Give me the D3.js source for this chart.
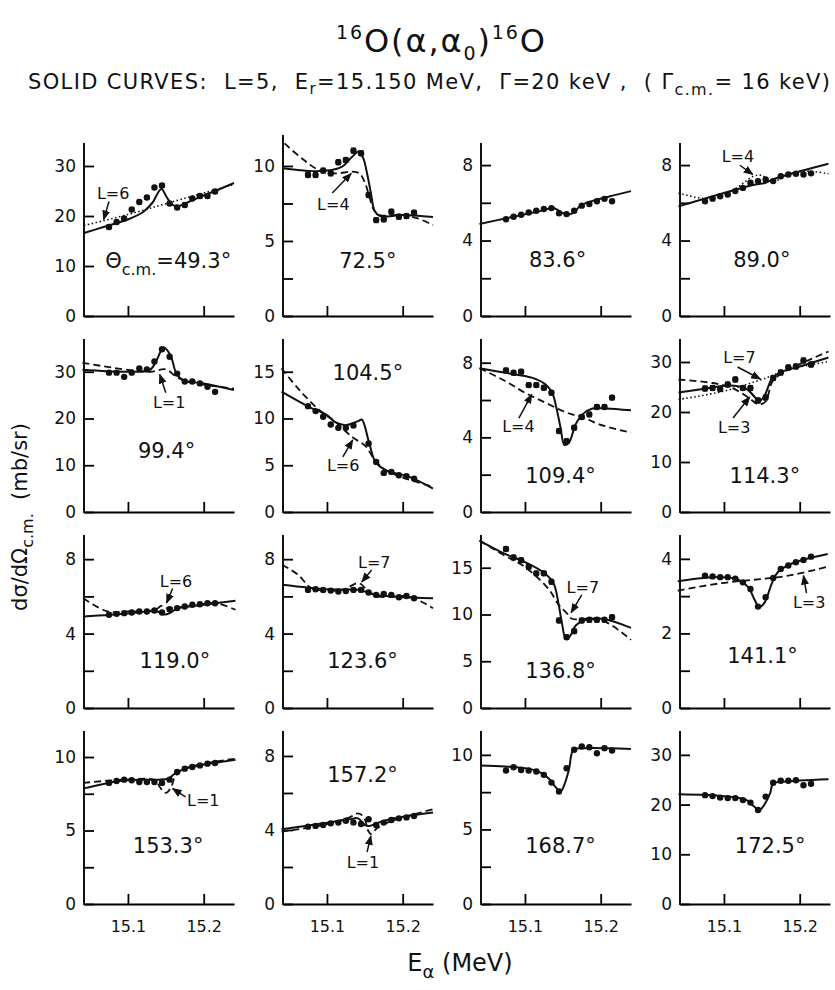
<!DOCTYPE html>
<html>
<head>
<meta charset="utf-8">
<script src="https://cdn.jsdelivr.net/npm/d3@7"></script>
<style>
  body { margin: 0; background: #fff; }
  text { font-family: "DejaVu Sans", sans-serif; fill: #111; }
</style>
</head>
<body>
<div id="chart"></div>
<script>
// Beam energies of the measured points (MeV), shared by all angles
const energies = [15.075, 15.085, 15.095, 15.105, 15.115, 15.125, 15.135, 15.145,
                  15.155, 15.165, 15.175, 15.185, 15.195, 15.205, 15.215];
const angles = ["49.3", "72.5", "83.6", "89.0", "99.4", "104.5", "109.4", "114.3",
                "119.0", "123.6", "136.8", "141.1", "153.3", "157.2", "168.7", "172.5"];
const xDomain = [15.042, 15.24];
const xTicks = [15.1, 15.2];
const yMax = [34.6, 11.53, 9.17, 9.17, 37.0, 18.5, 9.27, 34.6, 9.3, 9.3, 18.5, 4.64, 11.77, 9.35, 11.6, 34.8];
const yAxisEnd = [34.6, 12.07, 9.17, 9.17, 37.0, 18.5, 9.27, 34.6, 9.3, 9.3, 18.5, 4.64, 11.77, 9.35, 11.6, 34.8];
const yMajor = [[0, 10, 20, 30], [0, 5, 10], [0, 4, 8], [0, 4, 8], [0, 10, 20, 30], [0, 5, 10, 15],
                [0, 4, 8], [0, 10, 20, 30], [0, 4, 8], [0, 4, 8], [0, 5, 10, 15], [0, 2, 4],
                [0, 5, 10], [0, 4, 8], [0, 5, 10], [0, 10, 20, 30]];
const yMinor = [[], [2.5, 7.5], [2, 6], [2, 6], [], [], [2, 6], [], [2, 6], [2, 6], [], [1, 3],
                [2.5, 7.5], [2, 6], [2.5, 7.5], []];
// half height of the error bars (same units as the panel)
const errHalf = [0.5, 0.2, 0, 0.05, 0, 0, 0.15, 0.6, 0.06, 0, 0.3, 0, 0.1, 0, 0, 0];

// Measured cross sections (mb/sr), one value per energy
const sig493 = [17.8, 18.8, 19.5, 21.3, 22.8, 23.7, 25.7, 26.1, 22.5, 21.7, 22.2, 23.5, 24.0, 24.0, 24.9];
const sig725 = [9.40, 9.40, 9.69, 9.51, 10.25, 10.40, 11.02, 10.85, 8.06, 6.39, 6.44, 6.95, 6.62, 6.66, 6.88];
const sig836 = [5.13, 5.26, 5.37, 5.49, 5.58, 5.67, 5.72, 5.44, 5.40, 5.58, 5.85, 5.94, 6.08, 6.21, 6.08];
const sig890 = [6.08, 6.22, 6.35, 6.44, 6.62, 6.79, 7.06, 7.15, 7.24, 7.15, 7.41, 7.50, 7.54, 7.50, 7.56];
const sig994 = [29.8, 29.8, 28.9, 29.8, 30.7, 30.5, 32.2, 34.8, 33.2, 29.6, 27.9, 27.9, 27.5, 26.8, 25.7];
const sig1045 = [11.32, 10.79, 10.18, 9.36, 9.0, 9.0, 9.25, null, 7.32, 5.36, 4.18, 4.29, 3.93, 3.82, 3.57];
const sig1094 = [7.59, 7.46, 7.52, 6.80, 6.80, 6.66, 6.39, 4.34, 3.80, 4.52, 5.09, 5.23, 5.63, 5.63, 6.13];
const sig1143 = [24.7, 24.8, 24.6, 25.5, 26.5, 24.8, 24.8, 22.3, 22.9, 26.8, 27.9, 28.9, 29.1, 30.3, 29.5];
const sig1190 = [5.01, 5.06, 5.10, 5.13, 5.19, 5.19, 5.24, 5.13, 5.31, 5.37, 5.46, 5.55, 5.58, 5.63, 5.63];
const sig1236 = [6.35, 6.38, 6.35, 6.31, 6.26, 6.29, 6.35, 6.35, 6.21, 6.08, 6.13, 6.08, 5.95, 6.02, 5.90];
const sig1368 = [17.0, 16.1, 15.8, 15.1, 14.4, 14.4, 13.5, 9.36, 7.57, 8.21, 9.36, 9.43, 9.43, 9.43, 9.71];
const sig1411 = [3.55, 3.53, 3.51, 3.51, 3.47, 3.37, 3.19, 2.72, 2.97, 3.49, 3.73, 3.82, 3.91, 3.97, 4.06];
const sig1533 = [8.24, 8.37, 8.46, 8.42, 8.30, 8.30, 8.30, 8.24, 8.46, 8.98, 9.21, 9.32, 9.43, 9.55, 9.59];
const sig1572 = [4.18, 4.22, 4.27, 4.36, 4.40, 4.50, 4.41, 4.32, 4.58, 4.27, 4.40, 4.54, 4.63, 4.68, 4.76];
const sig1687 = [8.95, 9.17, 8.99, 8.95, 8.88, 8.66, 8.14, 7.54, 9.10, 10.34, 10.56, 10.51, 10.11, 10.45, 10.29];
const sig1725 = [21.9, 21.7, 21.4, 21.3, 21.3, 20.9, 20.4, 18.9, 21.6, 24.4, 24.8, 24.8, 24.9, 23.9, 24.2];

// Solid curves: L=5 resonance fits, [E, value]
const fit493 = [[15.042, 16.6], [15.07, 17.9], [15.1, 19.3], [15.12, 20.8], [15.132, 22.6], [15.144, 25.4], [15.151, 23.8], [15.158, 22.3], [15.166, 22.0], [15.18, 22.8], [15.2, 24.1], [15.22, 25.3], [15.24, 26.6]];
const fit725 = [[15.042, 9.84], [15.075, 9.67], [15.1, 9.69], [15.12, 9.96], [15.133, 10.6], [15.142, 10.96], [15.148, 10.5], [15.153, 9.5], [15.158, 8.2], [15.163, 7.0], [15.17, 6.66], [15.2, 6.73], [15.24, 6.6]];
const fit836 = [[15.04, 4.88], [15.08, 5.22], [15.12, 5.56], [15.137, 5.72], [15.145, 5.58], [15.152, 5.42], [15.158, 5.38], [15.165, 5.5], [15.172, 5.8], [15.18, 5.98], [15.21, 6.32], [15.24, 6.62]];
const fit890 = [[15.04, 5.81], [15.14, 6.96], [15.155, 7.06], [15.165, 7.25], [15.238, 8.07]];
const fit994 = [[15.04, 30.4], [15.1, 30.0], [15.129, 30.4], [15.138, 32.5], [15.147, 35.2], [15.156, 33.6], [15.164, 29.6], [15.173, 28.2], [15.2, 27.5], [15.24, 26.1]];
const fit1045 = [[15.04, 12.86], [15.076, 11.25], [15.1, 10.36], [15.111, 9.6], [15.124, 9.29], [15.133, 9.46], [15.142, 9.75], [15.146, 9.89], [15.156, 7.32], [15.164, 5.36], [15.178, 4.46], [15.209, 3.75], [15.24, 2.5]];
const fit1094 = [[15.04, 7.70], [15.074, 7.46], [15.109, 7.20], [15.127, 6.84], [15.136, 6.39], [15.14, 5.86], [15.147, 4.52], [15.152, 3.6], [15.158, 3.71], [15.167, 4.70], [15.176, 5.23], [15.189, 5.55], [15.207, 5.55], [15.24, 5.45]];
const fit1143 = [[15.04, 23.9], [15.076, 24.7], [15.107, 25.3], [15.129, 24.7], [15.14, 23.1], [15.146, 22.1], [15.153, 23.1], [15.164, 26.8], [15.177, 28.1], [15.2, 29.1], [15.238, 30.9]];
const fit1190 = [[15.041, 4.92], [15.1, 5.08], [15.13, 5.2], [15.14, 5.17], [15.148, 5.02], [15.156, 5.12], [15.165, 5.35], [15.2, 5.55], [15.242, 5.76]];
const fit1236 = [[15.041, 6.62], [15.1, 6.38], [15.142, 6.35], [15.155, 6.2], [15.165, 6.08], [15.24, 5.9]];
const fit1368 = [[15.04, 17.9], [15.073, 16.5], [15.1, 15.6], [15.127, 14.36], [15.138, 13.3], [15.144, 11.3], [15.149, 9.0], [15.154, 7.39], [15.16, 7.75], [15.167, 8.82], [15.18, 9.43], [15.202, 9.54], [15.24, 8.57]];
const fit1411 = [[15.039, 3.40], [15.097, 3.51], [15.119, 3.44], [15.132, 3.24], [15.141, 2.88], [15.147, 2.70], [15.154, 2.84], [15.163, 3.33], [15.171, 3.64], [15.189, 3.87], [15.237, 4.13]];
const fit1533 = [[15.041, 7.85], [15.096, 8.42], [15.14, 8.46], [15.153, 8.53], [15.162, 8.87], [15.176, 9.21], [15.242, 9.82]];
const fit1572 = [[15.04, 4.04], [15.095, 4.36], [15.13, 4.58], [15.141, 4.63], [15.15, 4.27], [15.156, 4.22], [15.165, 4.36], [15.183, 4.58], [15.24, 4.94]];
const fit1687 = [[15.041, 9.28], [15.073, 9.22], [15.1, 9.11], [15.118, 8.88], [15.131, 8.43], [15.14, 7.87], [15.147, 7.54], [15.151, 7.87], [15.158, 8.99], [15.164, 10.34], [15.176, 10.45], [15.24, 10.40]];
const fit1725 = [[15.04, 22.1], [15.1, 21.7], [15.13, 20.9], [15.139, 19.7], [15.147, 18.9], [15.153, 19.9], [15.161, 22.3], [15.165, 24.3], [15.178, 24.6], [15.238, 25.1]];

// Other-L curves (dashed or dotted)
const alt493L6 = [[15.042, 18.1], [15.1, 20.3], [15.16, 22.9], [15.24, 26.3]];
const alt725L4 = [[15.044, 11.5], [15.067, 10.5], [15.089, 9.73], [15.111, 9.5], [15.133, 9.62], [15.143, 9.5], [15.15, 8.9], [15.156, 7.95], [15.162, 7.06], [15.17, 6.73], [15.2, 6.73], [15.22, 6.5], [15.24, 6.06]];
const alt890L4 = [[15.04, 6.52], [15.076, 6.22], [15.1, 6.4], [15.12, 6.88], [15.139, 7.41], [15.15, 7.45], [15.164, 7.11], [15.185, 7.5], [15.207, 7.68], [15.238, 7.54]];
const alt994L1 = [[15.04, 31.9], [15.1, 30.4], [15.13, 30.0], [15.15, 30.5], [15.164, 28.9], [15.178, 27.9], [15.24, 26.4]];
const alt1045L6 = [[15.04, 15.36], [15.062, 13.2], [15.089, 10.96], [15.111, 9.64], [15.133, 8.04], [15.151, 7.04], [15.162, 5.71], [15.178, 4.46], [15.24, 2.68]];
const alt1094L4 = [[15.04, 7.70], [15.074, 7.02], [15.1, 6.39], [15.127, 5.86], [15.145, 5.50], [15.162, 5.23], [15.176, 5.09], [15.198, 4.70], [15.24, 4.25]];
const alt1143L3 = [[15.04, 26.5], [15.085, 25.8], [15.111, 24.8], [15.133, 22.8], [15.146, 21.5], [15.155, 22.1], [15.164, 26.1], [15.177, 27.8], [15.238, 32.1]];
const alt1143L7 = [[15.04, 22.5], [15.098, 24.1], [15.146, 26.3], [15.186, 28.5], [15.238, 30.1]];
const alt1190L6 = [[15.041, 5.90], [15.073, 5.19], [15.1, 5.19], [15.136, 5.28], [15.144, 5.49], [15.152, 5.37], [15.184, 5.49], [15.216, 5.63], [15.242, 5.28]];
const alt1236L7 = [[15.041, 7.70], [15.062, 7.16], [15.08, 6.44], [15.12, 6.35], [15.142, 6.71], [15.155, 6.26], [15.168, 5.99], [15.208, 5.99], [15.24, 5.36]];
const alt1368L7 = [[15.04, 17.9], [15.073, 16.3], [15.1, 15.07], [15.131, 12.75], [15.144, 11.1], [15.156, 10.07], [15.162, 9.54], [15.184, 9.54], [15.207, 9.18], [15.24, 7.29]];
const alt1411L3 = [[15.039, 3.15], [15.097, 3.35], [15.14, 3.44], [15.185, 3.55], [15.237, 3.79]];
const alt1533L1 = [[15.041, 8.24], [15.096, 8.46], [15.136, 8.42], [15.142, 7.96], [15.15, 7.56], [15.157, 7.96], [15.162, 8.64], [15.171, 9.14], [15.242, 9.89]];
const alt1572L1 = [[15.04, 3.91], [15.095, 4.27], [15.13, 4.68], [15.141, 4.90], [15.149, 4.68], [15.154, 4.0], [15.158, 3.78], [15.166, 4.09], [15.183, 4.45], [15.24, 5.12]];

const sigmas = [sig493, sig725, sig836, sig890, sig994, sig1045, sig1094, sig1143,
                sig1190, sig1236, sig1368, sig1411, sig1533, sig1572, sig1687, sig1725];
const fits = [fit493, fit725, fit836, fit890, fit994, fit1045, fit1094, fit1143,
              fit1190, fit1236, fit1368, fit1411, fit1533, fit1572, fit1687, fit1725];
// panel index, curve, dash style
const altCurves = [
    [0, alt493L6, "dot"], [1, alt725L4, "dash"], [3, alt890L4, "dot"], [4, alt994L1, "dash"],
    [5, alt1045L6, "dash"], [6, alt1094L4, "dash"], [7, alt1143L3, "dash"], [7, alt1143L7, "dot"],
    [8, alt1190L6, "dash"], [9, alt1236L7, "dash"], [10, alt1368L7, "dash"], [11, alt1411L3, "dash"],
    [12, alt1533L1, "dash"], [13, alt1572L1, "dash"]
];
// L labels: panel, text, text anchor [E, v], arrow from [E, v] to [E, v]
const lNotes = [
    [0, "L=6", [15.059, 23.4], [15.075, 22.9], [15.068, 19.3]],
    [1, "L=4", [15.087, 7.07], [15.107, 8.2], [15.132, 9.5]],
    [3, "L=4", [15.097, 8.15], [15.121, 7.99], [15.138, 7.5]],
    [4, "L=1", [15.133, 22.3], [15.150, 25.5], [15.142, 29.4]],
    [5, "L=6", [15.1, 4.4], [15.121, 5.9], [15.134, 7.7]],
    [6, "L=4", [15.070, 4.29], [15.092, 5.03], [15.109, 6.3]],
    [7, "L=7", [15.099, 29.8], [15.118, 29.0], [15.148, 26.6]],
    [7, "L=3", [15.092, 15.8], [15.112, 18.8], [15.134, 23.0]],
    [8, "L=6", [15.142, 6.52], [15.159, 6.42], [15.151, 5.65]],
    [9, "L=7", [15.141, 7.53], [15.159, 7.42], [15.146, 6.78]],
    [10, "L=7", [15.155, 12.3], [15.175, 12.1], [15.161, 10.2]],
    [11, "L=3", [15.191, 2.68], [15.209, 3.08], [15.205, 3.55]],
    [12, "L=1", [15.178, 6.67], [15.176, 7.28], [15.159, 7.85]],
    [13, "L=1", [15.126, 1.95], [15.153, 2.81], [15.158, 3.68]]
];
// angle label centre (E) and baseline (value) for each panel
const angleAt = [[15.070, 9.6], [15.154, 3.2], [15.143, 2.6], [15.150, 2.6], [15.151, 11.6], [15.154, 14.1],
                 [15.147, 1.55], [15.154, 5.8], [15.162, 2.14], [15.147, 2.15], [15.147, 3.2], [15.151, 1.2],
                 [15.153, 3.47], [15.147, 6.6], [15.147, 3.42], [15.161, 10.3]];

// Layout
const width = 835;
const height = 990;
const colLeft = [84, 283, 481, 680];
const rowZero = [316, 512, 708, 904];
const plotW = 150;
const axisH = 173;

const svg = d3.create("svg")
    .attr("width", width)
    .attr("height", height)
    .style("display", "block");
document.getElementById("chart").append(svg.node());

// Arrow head for the L labels
svg.append("defs").append("marker")
    .attr("id", "arrow")
    .attr("viewBox", "0 0 10 8")
    .attr("refX", 9).attr("refY", 4)
    .attr("markerWidth", 10).attr("markerHeight", 8)
    .attr("markerUnits", "userSpaceOnUse")
    .attr("orient", "auto")
    .append("path")
    .attr("d", "M0,0 L10,4 L0,8 Z")
    .attr("fill", "#111");

// Title
const title = svg.append("text")
    .attr("x", 336).attr("y", 52)
    .attr("font-size", 32)
    .attr("textLength", 209)
    .attr("lengthAdjust", "spacing");
title.append("tspan").attr("font-size", 19).attr("dy", -13).text("16");
title.append("tspan").attr("dy", 13).text("O(α,α");
title.append("tspan").attr("font-size", 19).attr("dy", 8).text("0");
title.append("tspan").attr("dy", -8).text(")");
title.append("tspan").attr("font-size", 19).attr("dy", -13).text("16");
title.append("tspan").attr("dy", 13).text("O");

// Subtitle
const sub = svg.append("text")
    .attr("x", 28).attr("y", 89)
    .attr("font-size", 21)
    .attr("textLength", 802)
    .attr("lengthAdjust", "spacing")
    .style("white-space", "pre");
sub.append("tspan").text("SOLID CURVES:  L=5,  E");
sub.append("tspan").attr("font-size", 15).attr("dy", 5).text("r");
sub.append("tspan").attr("dy", -5).text("=15.150 MeV,  Γ=20 keV ,  ( Γ");
sub.append("tspan").attr("font-size", 16).attr("dy", 6).text("c.m.");
sub.append("tspan").attr("dy", -6).text("= 16 keV)");

// Axis titles
const ylab = svg.append("text")
    .attr("transform", "translate(27,517) rotate(-90)")
    .attr("text-anchor", "middle")
    .attr("font-size", 21)
    .style("white-space", "pre");
ylab.append("tspan").text("dσ/dΩ");
ylab.append("tspan").attr("font-size", 16).attr("dy", 6).text("c.m.");
ylab.append("tspan").attr("dy", -6).text("  (mb/sr)");

const xlab = svg.append("text")
    .attr("x", 460).attr("y", 971)
    .attr("text-anchor", "middle")
    .attr("font-size", 24)
    .style("white-space", "pre");
xlab.append("tspan").text("E");
xlab.append("tspan").attr("font-size", 18).attr("dy", 7).text("α");
xlab.append("tspan").attr("dy", -7).text(" (MeV)");

const line = d3.line().curve(d3.curveCatmullRom.alpha(0.5));

angles.forEach(function (ang, i) {
    const row = Math.floor(i / 4);
    const col = i % 4;
    const x = d3.scaleLinear().domain(xDomain).range([colLeft[col], colLeft[col] + plotW]);
    const y = d3.scaleLinear().domain([0, yMax[i]]).range([rowZero[row], rowZero[row] - axisH]);
    const g = svg.append("g");

    // x axis (ticks point up, labels only on bottom row)
    const gx = g.append("g")
        .attr("transform", `translate(0,${rowZero[row]})`)
        .call(d3.axisBottom(x).tickValues(xTicks).tickSizeInner(-10).tickSizeOuter(0)
            .tickPadding(17).tickFormat(row === 3 ? d3.format(".1f") : () => ""));
    gx.select(".domain").attr("stroke-width", 2);
    gx.selectAll(".tick line").attr("stroke-width", 1.8);
    gx.selectAll(".tick text").attr("font-size", 16).attr("font-family", "DejaVu Sans").attr("fill", "#111");

    // y axis, major and minor ticks pointing inward
    const gy = g.append("g")
        .attr("transform", `translate(${colLeft[col]},0)`)
        .call(d3.axisLeft(y).tickValues(yMajor[i]).tickSizeInner(-10).tickSizeOuter(0)
            .tickPadding(8).tickFormat(d3.format("d")));
    gy.select(".domain").remove();
    gy.selectAll(".tick line").attr("stroke-width", 1.8);
    gy.selectAll(".tick text").attr("font-size", 17).attr("font-family", "DejaVu Sans").attr("fill", "#111");
    g.append("g")
        .attr("transform", `translate(${colLeft[col]},0)`)
        .call(d3.axisLeft(y).tickValues(yMinor[i]).tickSizeInner(-10).tickSizeOuter(0).tickFormat(() => ""))
        .call(a => a.select(".domain").remove())
        .selectAll(".tick line").attr("stroke-width", 1.8);
    g.append("line")
        .attr("x1", colLeft[col]).attr("x2", colLeft[col])
        .attr("y1", y(0) + 1).attr("y2", y(yAxisEnd[i]))
        .attr("stroke", "#111").attr("stroke-width", 2);

    // other-L curves
    altCurves.filter(c => c[0] === i).forEach(function (c) {
        g.append("path")
            .attr("d", line(c[1].map(p => [x(p[0]), y(p[1])])))
            .attr("fill", "none")
            .attr("stroke", "#111")
            .attr("stroke-width", c[2] === "dot" ? 1.6 : 1.8)
            .attr("stroke-dasharray", c[2] === "dot" ? "1.5,2.5" : "7,4");
    });

    // L=5 fit
    g.append("path")
        .attr("d", line(fits[i].map(p => [x(p[0]), y(p[1])])))
        .attr("fill", "none")
        .attr("stroke", "#111")
        .attr("stroke-width", 2);

    // data points
    const pts = energies.map((e, k) => [e, sigmas[i][k]]).filter(p => p[1] !== null);
    if (errHalf[i] > 0) {
        g.selectAll("rect.err")
            .data(pts)
            .enter()
            .append("rect")
            .attr("class", "err")
            .attr("x", d => x(d[0]) - 2.5)
            .attr("width", 5)
            .attr("y", d => y(d[1] + errHalf[i]))
            .attr("height", d => Math.max(2, y(d[1] - errHalf[i]) - y(d[1] + errHalf[i])))
            .attr("fill", "#111");
    }
    g.selectAll("circle")
        .data(pts)
        .enter()
        .append("circle")
        .attr("cx", d => x(d[0]))
        .attr("cy", d => y(d[1]))
        .attr("r", 3.2)
        .attr("fill", "#111");

    // angle label
    const lab = g.append("text")
        .attr("x", x(angleAt[i][0]))
        .attr("y", y(angleAt[i][1]))
        .attr("font-size", 21);
    if (i === 0) {
        lab.attr("text-anchor", "start");
        lab.append("tspan").text("Θ");
        lab.append("tspan").attr("font-size", 16).attr("dy", 7).text("c.m.");
        lab.append("tspan").attr("dy", -7).text("=" + ang + "°");
    } else {
        lab.attr("text-anchor", "middle").text(ang + "°");
    }

    // L labels with arrows
    lNotes.filter(n => n[0] === i).forEach(function (n) {
        g.append("text")
            .attr("x", x(n[2][0]))
            .attr("y", y(n[2][1]))
            .attr("font-size", 16)
            .text(n[1]);
        g.append("line")
            .attr("x1", x(n[3][0])).attr("y1", y(n[3][1]))
            .attr("x2", x(n[4][0])).attr("y2", y(n[4][1]))
            .attr("stroke", "#111")
            .attr("stroke-width", 1.5)
            .attr("marker-end", "url(#arrow)");
    });
});
</script>
</body>
</html>
